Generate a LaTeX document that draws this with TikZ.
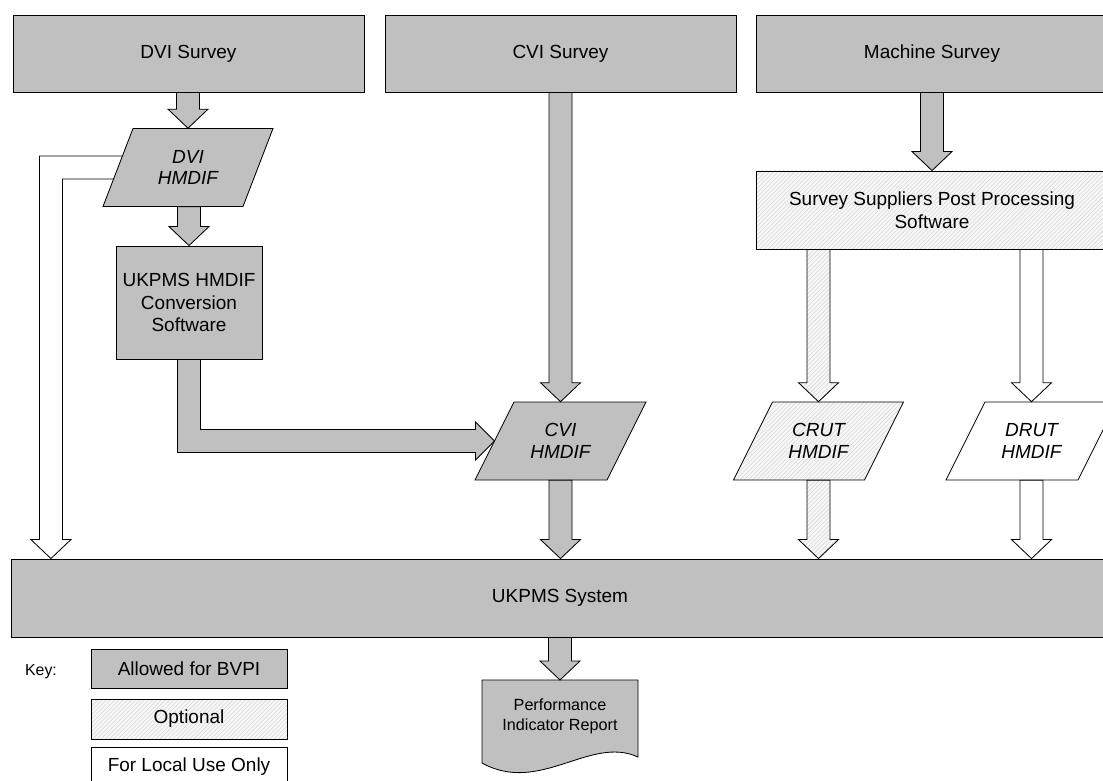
\documentclass[tikz,border=0pt]{standalone}
\usepackage{fontspec}
\setmainfont{Liberation Sans}
\usetikzlibrary{calc,patterns}
\definecolor{boxgray}{RGB}{192,192,192}

\tikzset{
  every node/.style={align=center, inner sep=0pt, text=black},
  txt/.style={font=\fontsize{13.5}{16}\selectfont},
  outline/.style={draw=black, line width=0.6pt},
  allowed/.style={outline, fill=boxgray},
  optional/.style={outline, preaction={fill=gray!6}, pattern=north east lines, pattern color=gray!30},
  localuse/.style={outline, fill=white},
  surveybox/.style={allowed, txt, minimum width=8.775cm, minimum height=1.925cm},
  hmdiftext/.style={font=\fontsize{13.5}{15.5}\selectfont\itshape, minimum height=1.95cm},
  keybox/.style={txt, minimum width=4.9cm, minimum height=1cm},
}

% block arrow pointing down, from the level of #2 to the tip #3
\newcommand{\blockdown}[3]{%
  \coordinate (bd-s) at (#2 -| #3);
  \path[#1] ($(bd-s)+(-11.5,0)$) -- ($(#3)+(-11.5,-19)$) -- ($(#3)+(-20,-19)$) -- (#3)
    -- ($(#3)+(20,-19)$) -- ($(#3)+(11.5,-19)$) -- ($(bd-s)+(11.5,0)$) -- cycle;}

% data file: name, style, centre, half width, half slant, text
\newcommand{\hmdif}[6]{%
  \path[#2] ($(#3)+(-#4+#5,-39)$) -- ($(#3)+(#4+#5,-39)$) -- ($(#3)+(#4-#5,39)$)
    -- ($(#3)+(-#4-#5,39)$) -- cycle;
  \node[hmdiftext] (#1) at (#3) {#6};}

\begin{document}
\begin{tikzpicture}[x=0.025cm, y=-0.025cm]
  \useasboundingbox (0,0) rectangle (1103,781);
  \clip (0,0) rectangle (1103,781);

  % surveys and software
  \node[surveybox] (dvis) at (188.5,53.5) {DVI Survey};
  \node[surveybox] (cvis) at (560.5,53.5) {CVI Survey};
  \node[surveybox, minimum width=8.8cm] (machs) at (932,53.5) {Machine Survey};
  \node[optional, txt, minimum width=8.8cm, minimum height=1.95cm] (supp) at (932,210)
    {Survey Suppliers Post Processing\\Software};
  \node[allowed, txt, minimum width=3.65cm, minimum height=2.825cm] (conv) at (189,302.5)
    {UKPMS HMDIF\\Conversion\\Software};
  \node[allowed, txt, minimum width=27.4cm, minimum height=1.95cm] (system) at (560,598) {UKPMS System};

  % DVI HMDIF straight into the system (local use)
  \coordinate (dvihc) at (188,167.5);
  \coordinate (la) at ($(dvihc)+(0,-11.5)$);
  \coordinate (lb) at ($(dvihc)+(0,11.5)$);
  \coordinate (lt) at ($(system.north west)+(39.5,0)$);
  \coordinate (lh) at ($(lt)+(0,-19)$);
  \coordinate (lo) at ($(lt)+(-11.5,0)$);
  \coordinate (li) at ($(lt)+(11.5,0)$);
  \path[localuse] (la) -- (la -| lo) -- (lh -| lo) -- ($(lh)+(-20,0)$) -- (lt)
    -- ($(lh)+(20,0)$) -- (lh -| li) -- (lb -| li) -- (lb) -- cycle;

  % data files
  \hmdif{dvih}{allowed}{dvihc}{70}{15}{DVI\\HMDIF}
  \hmdif{cvih}{allowed}{560.5,441}{66}{19.5}{CVI\\HMDIF}
  \hmdif{crut}{optional}{818.5,441}{65.5}{19.5}{CRUT\\HMDIF}
  \hmdif{drut}{localuse}{1031.5,441}{66}{19.5}{DRUT\\HMDIF}

  % report
  \coordinate (rep) at (560,680);
  \path[allowed] ($(rep)+(-78,0)$) -- ($(rep)+(78,0)$) -- ($(rep)+(78,77)$)
    .. controls ($(rep)+(30,55)$) and ($(rep)+(-20,115)$) .. ($(rep)+(-78,83)$) -- cycle;
  \node[font=\fontsize{11.5}{14}\selectfont, anchor=north, minimum height=1.8cm] (report) at (rep)
    {Performance\\Indicator Report};

  % key
  \node[font=\fontsize{11.3}{14}\selectfont] (key) at (41,672) {Key:};
  \node[allowed, keybox, minimum height=0.975cm] (kallowed) at (189,668.5) {Allowed for BVPI};
  \node[optional, keybox] (koptional) at (189,719) {Optional};
  \node[localuse, keybox] (klocal) at (189,767) {For Local Use Only};

  % block arrows
  \blockdown{allowed}{dvis.south}{dvih.north}
  \blockdown{allowed}{dvih.south}{conv.north}
  \blockdown{allowed}{cvis.south}{cvih.north}
  \coordinate (cvi-in) at (cvih.south |- system.north);
  \blockdown{allowed}{cvih.south}{cvi-in}
  \blockdown{allowed}{machs.south}{supp.north}
  \blockdown{optional}{supp.south}{crut.north}
  \blockdown{localuse}{supp.south}{drut.north}
  \coordinate (crut-in) at (crut.south |- system.north);
  \coordinate (drut-in) at (drut.south |- system.north);
  \blockdown{optional}{crut.south}{crut-in}
  \blockdown{localuse}{drut.south}{drut-in}
  \blockdown{allowed}{system.south}{report.north}

  % conversion software into CVI HMDIF
  \coordinate (ct) at ($(cvih)+(-66,0)$);
  \coordinate (ch) at ($(ct)+(-19,0)$);
  \coordinate (co) at ($(conv.south)+(-11.5,0)$);
  \coordinate (ci) at ($(conv.south)+(11.5,0)$);
  \coordinate (cu) at ($(ct)+(0,-11.5)$);
  \coordinate (cd) at ($(ct)+(0,11.5)$);
  \path[allowed] (co) -- (cd -| co) -- (cd -| ch) -- ($(ch)+(0,19)$) -- (ct)
    -- ($(ch)+(0,-19)$) -- (cu -| ch) -- (cu -| ci) -- (ci) -- cycle;
\end{tikzpicture}
\end{document}
